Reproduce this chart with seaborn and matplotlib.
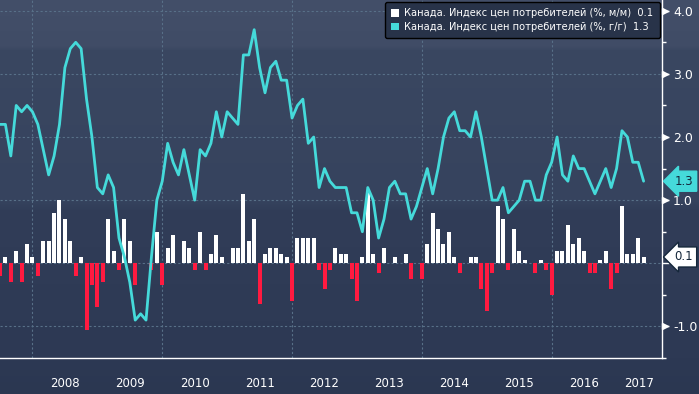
import numpy as np
import pandas as pd
import matplotlib
matplotlib.use("Agg")
import matplotlib.pyplot as plt
import seaborn as sns
from matplotlib.patches import Patch

# monthly data, Jun 2007 .. May 2017 (month-end points)
months = pd.period_range("2007-06", periods=120, freq="M")

# CPI, % m/m (bars)
cpi_mm = [
    -0.2, 0.1, -0.3, 0.2, -0.3, 0.3, 0.1,
    -0.2, 0.35, 0.35, 0.8, 1.0, 0.7, 0.35, -0.2, 0.1, -1.05, -0.35, -0.7,
    -0.3, 0.7, 0.2, -0.1, 0.7, 0.35, -0.35, 0.01, 0.01, -0.1, 0.5, -0.35,
    0.25, 0.45, 0.01, 0.35, 0.25, -0.1, 0.5, -0.1, 0.15, 0.45, 0.1, 0.01,
    0.25, 0.25, 1.1, 0.35, 0.7, -0.65, 0.15, 0.25, 0.25, 0.15, 0.1, -0.6,
    0.4, 0.4, 0.4, 0.4, -0.1, -0.4, -0.1, 0.25, 0.15, 0.15, -0.25, -0.6,
    0.1, 1.15, 0.15, -0.15, 0.25, 0.01, 0.1, 0.01, 0.15, -0.25,
    0.01, -0.25, 0.3, 0.8, 0.55, 0.3, 0.5, 0.1, -0.15, 0.01, 0.1, 0.1,
    -0.4, -0.75, -0.15, 0.9, 0.7, -0.1, 0.55, 0.2, 0.05, 0.01, -0.15, 0.05,
    -0.1, -0.5, 0.2, 0.2, 0.6, 0.3, 0.4, 0.2, -0.15, -0.15, 0.05, 0.2,
    -0.4, -0.15, 0.9, 0.15, 0.15, 0.4, 0.1,
]

# CPI, % y/y (line)
cpi_yy = [
    2.2, 2.2, 1.7, 2.5, 2.4, 2.5, 2.4,
    2.2, 1.8, 1.4, 1.7, 2.2, 3.1, 3.4, 3.5, 3.4, 2.6, 2.0, 1.2,
    1.1, 1.4, 1.2, 0.4, 0.1, -0.3, -0.9, -0.8, -0.9, 0.1, 1.0, 1.3,
    1.9, 1.6, 1.4, 1.8, 1.4, 1.0, 1.8, 1.7, 1.9, 2.4, 2.0, 2.4,
    2.3, 2.2, 3.3, 3.3, 3.7, 3.1, 2.7, 3.1, 3.2, 2.9, 2.9, 2.3,
    2.5, 2.6, 1.9, 2.0, 1.2, 1.5, 1.3, 1.2, 1.2, 1.2, 0.8, 0.8,
    0.5, 1.2, 1.0, 0.4, 0.7, 1.2, 1.3, 1.1, 1.1, 0.7, 0.9, 1.2,
    1.5, 1.1, 1.5, 2.0, 2.3, 2.4, 2.1, 2.1, 2.0, 2.4, 2.0, 1.5,
    1.0, 1.0, 1.2, 0.8, 0.9, 1.0, 1.3, 1.3, 1.0, 1.0, 1.4, 1.6,
    2.0, 1.4, 1.3, 1.7, 1.5, 1.5, 1.3, 1.1, 1.3, 1.5, 1.2, 1.5,
    2.1, 2.0, 1.6, 1.6, 1.3,
]

years = [2008, 2009, 2010, 2011, 2012, 2013, 2014, 2015, 2016, 2017]
y_ticks = [-1, 0, 1, 2, 3, 4]
y_labels = ["-1.0", "", "1.0", "2.0", "3.0", "4.0"]
label_mm = "Канада. Индекс цен потребителей (%, м/м)"
label_yy = "Канада. Индекс цен потребителей (%, г/г)"

CYAN = "#45dada"
RED = "#ff1a40"
GRID = "#587088"

df = pd.DataFrame({"i": np.arange(len(months)), "mm": cpi_mm, "yy": cpi_yy})
df["sign"] = np.where(df["mm"] >= 0, "up", "down")

sns.set_style("dark")
plt.rcParams["font.family"] = ["DejaVu Sans"]

fig = plt.figure(figsize=(6.99, 3.94), dpi=100)

# background gradient over the whole figure
bg = fig.add_axes([0, 0, 1, 1], zorder=-10)
stops_y = [0, 46, 50, 200, 210, 358, 394]
stops_c = ["#434f69", "#404c66", "#3a4761", "#36435e", "#313d58", "#2d3954", "#2b3751"]
rgb = np.array([matplotlib.colors.to_rgb(c) for c in stops_c])
rows = np.arange(394)
grad = np.stack([np.interp(rows, stops_y, rgb[:, k]) for k in range(3)], axis=1)
bg.imshow(grad[:, None, :], aspect="auto", extent=[0, 1, 0, 1])
bg.set_axis_off()

ax = fig.add_axes([0, 36 / 394, 662 / 699, 358 / 394])
ax.set_facecolor("none")

for y in y_ticks:
    ax.axhline(y, color=GRID, lw=0.8, ls=(0, (2, 2)), zorder=0.5)
for k in range(0, len(years), 2):
    ax.axvline(6 + 12 * k, color=GRID, lw=0.8, ls=(0, (2, 2)), zorder=0.5)

sns.barplot(data=df, x="i", y="mm", hue="sign", palette={"up": "white", "down": RED},
            native_scale=True, dodge=False, errorbar=None, legend=False,
            width=0.74, saturation=1, linewidth=0, ax=ax)
sns.lineplot(data=df, x="i", y="yy", color=CYAN, lw=2, ax=ax, zorder=3)

xmax = 122.4
ax.set_xlim(0, xmax)
ax.set_ylim(-1.49, 4.17)
ax.set_xlabel("")
ax.set_ylabel("")

# x axis: year separators as long ticks, year names in between
bounds = [6 + 12 * k for k in range(len(years))]
centers = [(b + min(b + 12, xmax)) / 2 for b in bounds]
ax.set_xticks(bounds)
ax.set_xticklabels([])
ax.set_xticks(centers, minor=True)
ax.set_xticklabels([str(y) for y in years], minor=True)
ax.tick_params(axis="x", which="major", length=26, width=1, color="#8d96a6", direction="out")
ax.tick_params(axis="x", which="minor", length=0, pad=14, labelsize=8.5, labelcolor="white")

# y axis on the right
ax.yaxis.tick_right()
ax.set_yticks(y_ticks)
ax.set_yticklabels(y_labels)
ax.set_yticks(np.arange(-1.5, 4.01, 0.5), minor=True)
ax.tick_params(axis="y", which="major", length=5, width=1, color="white", labelsize=9,
               labelcolor="white", pad=3)
ax.tick_params(axis="y", which="minor", length=3, width=1, color="white")
for y in [-1, 1, 2, 3, 4]:
    ax.plot([1.004], [y], marker=">", ms=4, color="white", transform=ax.get_yaxis_transform(),
            clip_on=False)

for s in ["top", "left"]:
    ax.spines[s].set_visible(False)
for s in ["right", "bottom"]:
    ax.spines[s].set_color("white")
    ax.spines[s].set_linewidth(1)

# last-value tags
ax.annotate(f"{cpi_yy[-1]:.1f}", xy=(1.0, cpi_yy[-1]), xycoords=("axes fraction", "data"),
            xytext=(9, 0), textcoords="offset points", va="center", ha="left", fontsize=8.5,
            color="#14263a", annotation_clip=False,
            bbox=dict(boxstyle="larrow,pad=0.3", fc=CYAN, ec=CYAN))
ax.annotate(f"{cpi_mm[-1]:.1f}", xy=(1.0, cpi_mm[-1]), xycoords=("axes fraction", "data"),
            xytext=(9, 0), textcoords="offset points", va="center", ha="left", fontsize=8.5,
            color="#14263a", annotation_clip=False,
            bbox=dict(boxstyle="larrow,pad=0.3", fc="white", ec="#14263a"))

handles = [Patch(fc="white", ec="none"), Patch(fc=CYAN, ec="none")]
labels = [f"{label_mm}  {cpi_mm[-1]:.1f}", f"{label_yy}  {cpi_yy[-1]:.1f}"]
leg = ax.legend(handles, labels, loc="upper right", bbox_to_anchor=(1.0, 1.0),
                fontsize=7.1, handlelength=0.8, handleheight=0.8, handletextpad=0.6,
                labelspacing=0.35, borderpad=0.6, borderaxespad=0.25,
                framealpha=1, fancybox=True)
leg.get_frame().set_facecolor("#283349")
leg.get_frame().set_edgecolor("black")
for t in leg.get_texts():
    t.set_color("white")

fig.savefig("out.png", dpi=100)
